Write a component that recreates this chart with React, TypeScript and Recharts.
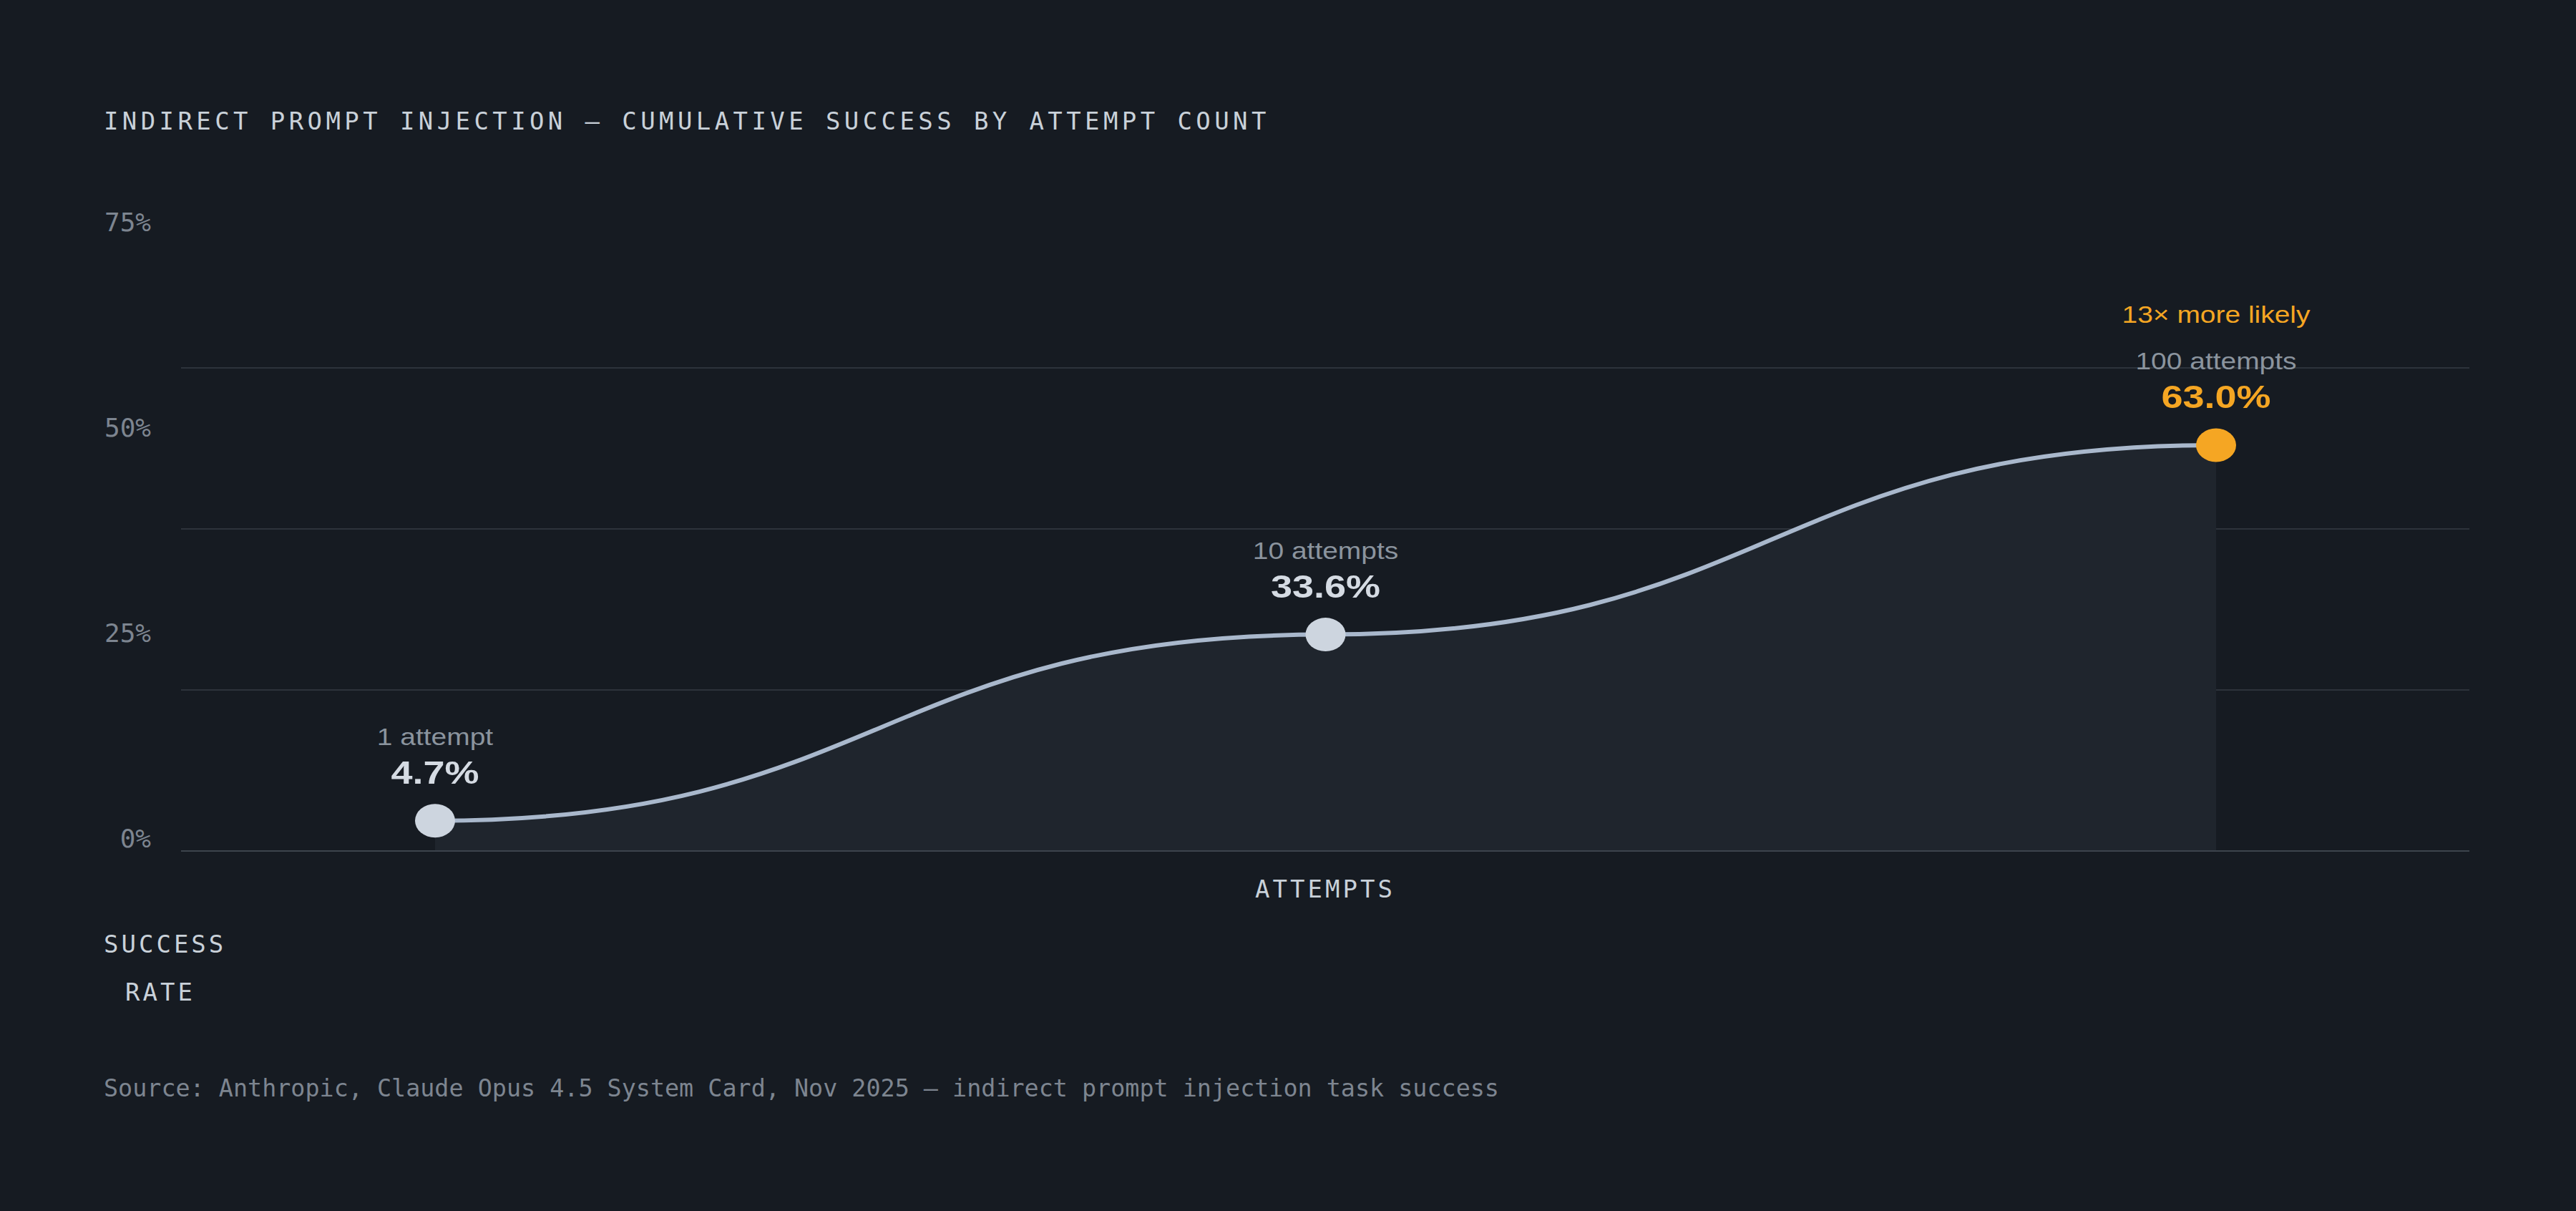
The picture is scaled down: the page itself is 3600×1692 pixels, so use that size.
import { ComposedChart, Area, XAxis, YAxis, CartesianGrid, Label } from "recharts";

const attempts = ["1", "10", "100"];
const attemptLabels = ["1 attempt", "10 attempts", "100 attempts"];
const successRate = [4.7, 33.6, 63.0];
const yTicks = [0, 25, 50, 75];
const callout = "13× more likely";

const title = "INDIRECT PROMPT INJECTION — CUMULATIVE SUCCESS BY ATTEMPT COUNT";
const source = "Source: Anthropic, Claude Opus 4.5 System Card, Nov 2025 — indirect prompt injection task success";

const data = attempts.map((a, i) => ({ attempts: a, label: attemptLabels[i], rate: successRate[i] }));

const BG = "#161b22";
const ORANGE = "#f5a623";
const MONO = "'DejaVu Sans Mono', monospace";
const SANS = "'Liberation Sans', Arial, sans-serif";
const W = 3600;
const H = 1692;
const PLOT_BOTTOM = 1189;
// the tick labels in the original sit on their own, slightly wider spacing than the grid
const TICK_SPREAD = 287 / 225;
const STRETCH = "scale(1.206 1)";

const YTick = (props: any) => {
  const { x, y, payload } = props;
  const ly = PLOT_BOTTOM - 18 - (PLOT_BOTTOM - y) * TICK_SPREAD;
  return (
    <text x={x} y={ly + 13} textAnchor="end" fontFamily={MONO} fontSize={36} fill="#7d8590">
      {payload.value}%
    </text>
  );
};

const renderDot = (props: any) => {
  const { cx, cy, index, payload } = props;
  const last = index === data.length - 1;
  return (
    <g key={`dot-${index}`}>
      <ellipse cx={cx} cy={cy} rx={28} ry={23.5} fill={last ? ORANGE : "#cdd5df"} />
      {last && (
        <text transform={`translate(${cx} ${cy - 171}) ${STRETCH}`} textAnchor="middle" fontFamily={SANS} fontSize={32.3} fill={ORANGE}>
          {callout}
        </text>
      )}
      <text transform={`translate(${cx} ${cy - 106}) ${STRETCH}`} textAnchor="middle" fontFamily={SANS} fontSize={32.3} fill="#8b949e">
        {payload.label}
      </text>
      <text transform={`translate(${cx} ${cy - 52}) ${STRETCH}`} textAnchor="middle" fontFamily={SANS} fontSize={44.8} fontWeight={700} fill={last ? ORANGE : "#d5dbe3"}>
        {payload.rate.toFixed(1)}%
      </text>
    </g>
  );
};

const textStyle = (top: number, left: number, size: number, color: string, spacing = 0) => ({
  position: "absolute" as const,
  top,
  left,
  fontFamily: MONO,
  fontSize: size,
  lineHeight: `${size}px`,
  letterSpacing: spacing,
  color,
  whiteSpace: "nowrap" as const,
});

export default function App() {
  return (
    <div style={{ position: "absolute", left: 0, top: 0, width: W, height: H, background: BG, overflow: "hidden" }}>
      <div style={textStyle(151.6, 145, 34, "#c9d1d9", 5.4)}>{title}</div>
      <div style={{ position: "absolute", left: 0, top: 0 }}>
        <ComposedChart width={W} height={H} data={data} margin={{ top: 514, right: 149, bottom: 443, left: 133 }}>
          <CartesianGrid vertical={false} stroke="#2d333b" strokeWidth={2} />
          <XAxis
            dataKey="attempts"
            type="category"
            padding={{ left: 355, right: 354 }}
            axisLine={{ stroke: "#3d444d", strokeWidth: 2 }}
            tickLine={false}
            tick={false}
            height={60}
          >
            <Label
              content={(p: any) => {
                const vb = p.viewBox;
                return (
                  <text x={vb.x + vb.width / 2} y={vb.y + 65} textAnchor="middle" fontFamily={MONO} fontSize={34} fill="#c9d1d9" style={{ letterSpacing: 4 }}>
                    ATTEMPTS
                  </text>
                );
              }}
            />
          </XAxis>
          <YAxis
            domain={[0, 75]}
            ticks={yTicks}
            width={120}
            axisLine={false}
            tickLine={false}
            tickMargin={36}
            tick={YTick}
          />
          <Area
            type="bumpX"
            dataKey="rate"
            stroke="#a9b8cc"
            strokeWidth={6}
            fill="#1f252d"
            fillOpacity={1}
            dot={renderDot}
            activeDot={false}
            isAnimationActive={false}
          />
        </ComposedChart>
      </div>
      <div style={textStyle(1301.6, 145, 34, "#c9d1d9", 4)}>SUCCESS</div>
      <div style={textStyle(1368.6, 175, 34, "#c9d1d9", 4)}>RATE</div>
      <div style={textStyle(1504, 145, 33.4, "#7d8590")}>{source}</div>
    </div>
  );
}
